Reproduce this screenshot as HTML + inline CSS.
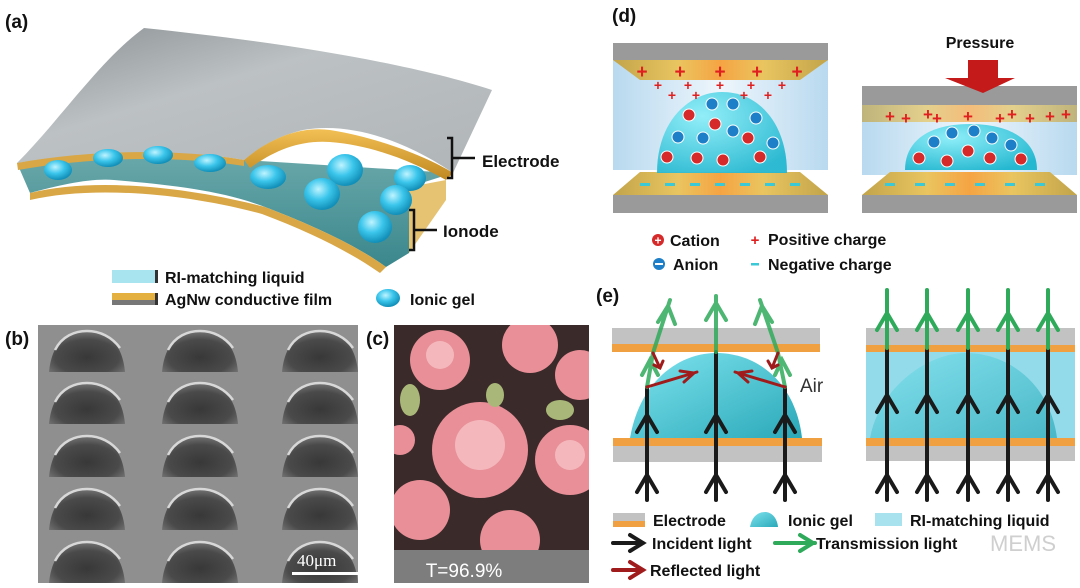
<!DOCTYPE html>
<html><head><meta charset="utf-8"><style>
html,body{margin:0;padding:0;background:#fff;}
svg{display:block;font-family:"Liberation Sans",Arial,sans-serif;}
.t{font-weight:bold;font-size:16px;fill:#111;}
.lab{font-weight:bold;font-size:19px;fill:#111;}
</style></head><body>
<svg width="1080" height="588" viewBox="0 0 1080 588" xmlns="http://www.w3.org/2000/svg">
<defs>
<linearGradient id="gray" x1="0" y1="0" x2="1" y2="1"><stop offset="0" stop-color="#8a9093"/><stop offset="0.4" stop-color="#bcc1c3"/><stop offset="1" stop-color="#b0b5b7"/></linearGradient>
<linearGradient id="gold" x1="0" y1="0" x2="0" y2="1"><stop offset="0" stop-color="#f2c055"/><stop offset="1" stop-color="#c08820"/></linearGradient>
<radialGradient id="ball" cx="0.4" cy="0.35" r="0.65"><stop offset="0" stop-color="#bff4ff"/><stop offset="0.5" stop-color="#3cc6ec"/><stop offset="1" stop-color="#118fb8"/></radialGradient>
<linearGradient id="cav" x1="0" y1="0" x2="0" y2="1"><stop offset="0" stop-color="#6aa8aa"/><stop offset="1" stop-color="#3a878c"/></linearGradient>
<radialGradient id="bump" cx="0.5" cy="0.65" r="0.6"><stop offset="0" stop-color="#383838"/><stop offset="0.7" stop-color="#4a4a4a"/><stop offset="1" stop-color="#707070"/></radialGradient>
<linearGradient id="ylw" x1="0" y1="0" x2="1" y2="0"><stop offset="0" stop-color="#c2a44a"/><stop offset="0.3" stop-color="#e9c560"/><stop offset="0.5" stop-color="#f6a443"/><stop offset="0.7" stop-color="#e9c560"/><stop offset="1" stop-color="#c2a44a"/></linearGradient>
<linearGradient id="mid" x1="0" y1="0" x2="1" y2="0"><stop offset="0" stop-color="#b8d9ef"/><stop offset="0.5" stop-color="#eef6fc"/><stop offset="1" stop-color="#b8d9ef"/></linearGradient>
<radialGradient id="dome" cx="0.35" cy="0.3" r="0.8"><stop offset="0" stop-color="#8eeef8"/><stop offset="1" stop-color="#24b7d0"/></radialGradient>
<linearGradient id="gdome" x1="0" y1="0" x2="1" y2="1"><stop offset="0" stop-color="#7fe4ef"/><stop offset="1" stop-color="#2aa8b8"/></linearGradient>
<clipPath id="cb"><rect x="38" y="325" width="320" height="258"/></clipPath>
<clipPath id="cc"><rect x="394" y="325" width="195" height="225"/></clipPath>
</defs>

<!-- (a) -->
<text x="5" y="28" class="lab">(a)</text>
<path d="M30,193 C60,185 90,178 114,180 C170,185 220,190 265,207 C320,228 360,248 386,267 L409,253 L409,187 L453,173 L244,160 C200,155 120,150 17,163 Z" fill="url(#cav)"/>
<path d="M17,163 C60,120 100,60 144,28 C260,40 400,60 492,90 L453,173 C420,150 360,120 303,130 C270,138 255,152 244,160 C200,152 120,148 17,163 Z" fill="url(#gray)"/>
<path d="M17,163 C100,148 190,150 244,160 L244,166 C190,157 100,155 18,170 Z" fill="#d9a745"/>
<path d="M244,160 C270,138 300,126 330,130 C380,138 430,158 453,173 L446,180 C410,160 370,145 330,142 C300,140 275,150 250,168 Z" fill="url(#gold)"/>
<path d="M30,193 C90,178 180,185 265,207 C320,228 360,248 386,267 L380,273 C350,252 310,232 262,214 C180,192 90,186 30,200 Z" fill="#d9a745"/>
<path d="M386,267 L409,253 L409,187 L446,180 L446,200 L409,253 Z" fill="#e0b450" opacity="0.8"/>
<g fill="url(#ball)">
<ellipse cx="58" cy="170" rx="14" ry="10"/><ellipse cx="108" cy="158" rx="15" ry="9"/><ellipse cx="158" cy="155" rx="15" ry="9"/><ellipse cx="210" cy="163" rx="16" ry="9"/>
<ellipse cx="268" cy="177" rx="18" ry="12"/><ellipse cx="345" cy="170" rx="18" ry="16"/><ellipse cx="322" cy="194" rx="18" ry="16"/><ellipse cx="410" cy="178" rx="16" ry="13"/><ellipse cx="396" cy="200" rx="16" ry="15"/><ellipse cx="375" cy="227" rx="17" ry="16"/>
</g>
<path d="M447,138 H452 V178 H447 M452,158 H475" stroke="#111" stroke-width="2.5" fill="none"/>
<path d="M409,210 H414 V250 H409 M414,230 H437" stroke="#111" stroke-width="2.5" fill="none"/>
<text x="482" y="167" class="t" style="font-size:17px">Electrode</text>
<text x="443" y="237" class="t" style="font-size:17px">Ionode</text>
<rect x="112" y="270" width="45" height="13" fill="#a8e4ef"/><rect x="155" y="270" width="3" height="13" fill="#333"/>
<text x="165" y="283" class="t">RI-matching liquid</text>
<rect x="112" y="293" width="45" height="7" fill="#e4b040"/><rect x="112" y="300" width="45" height="5" fill="#777"/><rect x="155" y="293" width="3" height="12" fill="#333"/>
<text x="165" y="305" class="t">AgNw conductive film</text>
<ellipse cx="388" cy="298" rx="12" ry="9" fill="url(#ball)"/>
<text x="410" y="305" class="t">Ionic gel</text>

<!-- (b) -->
<text x="5" y="345" class="lab">(b)</text>
<g clip-path="url(#cb)">
<rect x="38" y="325" width="320" height="258" fill="#8f8f8f"/>
<g id="row">
<path d="M49,372 C52,340 70,330 87,330 C104,330 122,340 125,372 Z" fill="url(#bump)"/>
<path d="M162,372 C165,340 183,330 200,330 C217,330 235,340 238,372 Z" fill="url(#bump)"/>
<path d="M282,372 C285,340 303,330 320,330 C337,330 355,340 358,372 Z" fill="url(#bump)"/>
<path d="M55,350 C62,336 75,331 87,331 C100,331 112,337 120,348 M168,350 C175,336 188,331 200,331 C213,331 225,337 233,348 M288,350 C295,336 308,331 320,331 C333,331 345,337 353,348" stroke="#d8d8d8" stroke-width="2.5" fill="none"/>
</g>
<use href="#row" y="52"/><use href="#row" y="105"/><use href="#row" y="158"/><use href="#row" y="211"/>
</g>
<rect x="292" y="572" width="66" height="3" fill="#fff"/>
<text x="297" y="566" fill="#fff" style="font-family:'Liberation Serif',serif;font-size:17px">40μm</text>

<!-- (c) -->
<text x="366" y="345" class="lab">(c)</text>
<g clip-path="url(#cc)">
<rect x="394" y="325" width="195" height="225" fill="#3a2a2a"/>
<g fill="#e88f98">
<circle cx="440" cy="360" r="30"/><circle cx="530" cy="345" r="28"/><circle cx="580" cy="375" r="25"/><circle cx="480" cy="450" r="48"/><circle cx="570" cy="460" r="35"/><circle cx="420" cy="510" r="30"/><circle cx="510" cy="540" r="30"/><circle cx="400" cy="440" r="15"/>
</g>
<g fill="#f4b8bc"><circle cx="480" cy="445" r="25"/><circle cx="440" cy="355" r="14"/><circle cx="570" cy="455" r="15"/></g>
<g fill="#a9b878"><ellipse cx="410" cy="400" rx="10" ry="16"/><ellipse cx="560" cy="410" rx="14" ry="10"/><ellipse cx="495" cy="395" rx="9" ry="12"/></g>
</g>
<rect x="394" y="550" width="195" height="33" fill="#7d7d7d"/>
<text x="464" y="577" fill="#fff" text-anchor="middle" style="font-size:19px">T=96.9%</text>

<!-- (d) -->
<text x="612" y="22" class="lab">(d)</text>
<rect x="613" y="60" width="215" height="110" fill="url(#mid)"/>
<rect x="613" y="43" width="215" height="17" fill="#9a9a9a"/>
<path d="M613,60 H828 L800,80 H640 Z" fill="url(#ylw)"/>
<path d="M613,195 H828 L800,172 H640 Z" fill="url(#ylw)"/>
<rect x="613" y="195" width="215" height="18" fill="#9a9a9a"/>
<path d="M657,173 C657,120 690,92 722,92 C760,92 787,125 787,173 Z" fill="url(#dome)" opacity="0.95"/>
<g fill="#e02020" font-weight="bold" font-size="19" text-anchor="middle">
<text x="642" y="78">+</text><text x="680" y="78">+</text><text x="720" y="78">+</text><text x="757" y="78">+</text><text x="797" y="78">+</text>
</g>
<g fill="#e02020" font-weight="bold" font-size="14" text-anchor="middle">
<text x="658" y="90">+</text><text x="688" y="90">+</text><text x="720" y="90">+</text><text x="751" y="90">+</text><text x="782" y="90">+</text><text x="672" y="100">+</text><text x="696" y="100">+</text><text x="744" y="100">+</text><text x="768" y="100">+</text>
</g>
<g fill="#3ac9d6"><rect x="640" y="183" width="10" height="3"/><rect x="665" y="183" width="10" height="3"/><rect x="690" y="183" width="10" height="3"/><rect x="715" y="183" width="10" height="3"/><rect x="740" y="183" width="10" height="3"/><rect x="765" y="183" width="10" height="3"/><rect x="790" y="183" width="10" height="3"/></g>
<g fill="#d62a2a" stroke="#fff" stroke-width="1">
<circle cx="689" cy="115" r="6"/><circle cx="715" cy="124" r="6"/><circle cx="748" cy="138" r="6"/><circle cx="667" cy="157" r="6"/><circle cx="697" cy="158" r="6"/><circle cx="723" cy="160" r="6"/><circle cx="760" cy="157" r="6"/>
</g>
<g fill="#1d7fc8" stroke="#fff" stroke-width="1">
<circle cx="712" cy="104" r="6"/><circle cx="733" cy="104" r="6"/><circle cx="756" cy="118" r="6"/><circle cx="678" cy="137" r="6"/><circle cx="703" cy="138" r="6"/><circle cx="733" cy="131" r="6"/><circle cx="773" cy="143" r="6"/>
</g>
<rect x="862" y="105" width="215" height="70" fill="url(#mid)"/>
<rect x="862" y="86" width="215" height="19" fill="#9a9a9a"/>
<rect x="862" y="105" width="215" height="17" fill="url(#ylw)" opacity="0.7"/>
<path d="M862,195 H1077 L1050,172 H890 Z" fill="url(#ylw)"/>
<rect x="862" y="195" width="215" height="18" fill="#9a9a9a"/>
<path d="M905,170 C905,140 930,124 970,124 C1010,124 1037,140 1037,170 Z" fill="url(#dome)"/>
<g fill="#e02020" font-weight="bold" font-size="17" text-anchor="middle">
<text x="890" y="122">+</text><text x="906" y="124">+</text><text x="928" y="120">+</text><text x="937" y="124">+</text><text x="968" y="122">+</text><text x="1000" y="124">+</text><text x="1012" y="120">+</text><text x="1030" y="124">+</text><text x="1050" y="122">+</text><text x="1066" y="120">+</text>
</g>
<g fill="#3ac9d6"><rect x="885" y="183" width="10" height="3"/><rect x="915" y="183" width="10" height="3"/><rect x="945" y="183" width="10" height="3"/><rect x="975" y="183" width="10" height="3"/><rect x="1005" y="183" width="10" height="3"/><rect x="1035" y="183" width="10" height="3"/></g>
<g fill="#d62a2a" stroke="#fff" stroke-width="1"><circle cx="919" cy="158" r="6"/><circle cx="947" cy="161" r="6"/><circle cx="968" cy="151" r="6"/><circle cx="990" cy="158" r="6"/><circle cx="1021" cy="159" r="6"/></g>
<g fill="#1d7fc8" stroke="#fff" stroke-width="1"><circle cx="934" cy="142" r="6"/><circle cx="952" cy="133" r="6"/><circle cx="974" cy="131" r="6"/><circle cx="992" cy="138" r="6"/><circle cx="1011" cy="145" r="6"/></g>
<path d="M968,60 H998 V78 H1015 L983,93 L945,78 H968 Z" fill="#c41a1a"/>
<text x="980" y="48" class="t" text-anchor="middle">Pressure</text>
<circle cx="658" cy="240" r="6" fill="#d62a2a"/><text x="658" y="244.5" fill="#fff" font-size="12" font-weight="bold" text-anchor="middle">+</text>
<text x="670" y="246" class="t">Cation</text>
<text x="755" y="245" fill="#e02020" font-weight="bold" font-size="15" text-anchor="middle">+</text>
<text x="768" y="245" class="t">Positive charge</text>
<circle cx="659" cy="264" r="6" fill="#1d7fc8"/><rect x="655" y="263" width="8" height="2" fill="#fff"/>
<text x="673" y="270" class="t">Anion</text>
<rect x="751" y="263" width="8" height="2.5" fill="#3ac9d6"/>
<text x="768" y="270" class="t">Negative charge</text>

<!-- (e) -->
<text x="596" y="302" class="lab">(e)</text>
<rect x="612" y="328" width="208" height="16" fill="#c2c2c2"/>
<rect x="612" y="344" width="208" height="8" fill="#f0a040"/>
<path d="M630,438 C640,380 680,353 716,353 C760,353 796,385 802,438 Z" fill="url(#gdome)"/>
<rect x="613" y="438" width="209" height="8" fill="#f0a040"/>
<rect x="613" y="446" width="209" height="16" fill="#c2c2c2"/>
<g stroke="#1a1a1a" stroke-width="4" fill="none" stroke-linecap="round">
<path d="M647,500 V387"/><path d="M716,500 V352"/><path d="M785,500 V387"/>
<path d="M637,492 L647,475 L657,492 M637,432 L647,415 L657,432 M706,492 L716,475 L726,492 M706,432 L716,415 L726,432 M775,492 L785,475 L795,492 M775,432 L785,415 L795,432"/>
</g>
<g stroke="#2eaa5a" stroke-width="4" fill="none" stroke-linecap="round" opacity="0.85">
<path d="M716,352 V296 M706,320 L716,303 L726,320"/>
<path d="M647,387 L653,353 L670,300 M642,375 L650,360 L658,375 M658,322 L668,306 L675,324"/>
<path d="M785,387 L778,353 L760,300 M775,375 L782,360 L790,375 M755,324 L762,306 L772,322"/>
</g>
<g stroke="#a01c1c" stroke-width="3" fill="none" stroke-linecap="round">
<path d="M647,387 L697,372 M680,371 L694,373 L684,382"/>
<path d="M785,387 L735,372 M752,371 L738,373 L748,382"/>
<path d="M653,353 L660,368 M654,365 L660,368 L663,361"/>
<path d="M778,353 L772,368 M768,361 L772,368 L778,365"/>
</g>
<text x="800" y="392" class="t" style="font-size:19px;font-weight:normal;fill:#333">Air</text>
<rect x="866" y="352" width="209" height="86" fill="#93dbea"/>
<path d="M870,438 C880,385 930,353 965,353 C1010,353 1050,385 1057,438 Z" fill="url(#gdome)" opacity="0.7"/>
<rect x="866" y="328" width="209" height="17" fill="#c2c2c2"/>
<rect x="866" y="345" width="209" height="7" fill="#f0a040"/>
<rect x="866" y="438" width="209" height="8" fill="#f0a040"/>
<rect x="866" y="446" width="209" height="15" fill="#c2c2c2"/>
<g stroke="#1a1a1a" stroke-width="4" fill="none" stroke-linecap="round">
<path d="M887,500 V348 M877,492 L887,475 L897,492 M877,412 L887,395 L897,412"/>
<path d="M927,500 V348 M917,492 L927,475 L937,492 M917,412 L927,395 L937,412"/>
<path d="M968,500 V348 M958,492 L968,475 L978,492 M958,412 L968,395 L978,412"/>
<path d="M1008,500 V348 M998,492 L1008,475 L1018,492 M998,412 L1008,395 L1018,412"/>
<path d="M1048,500 V348 M1038,492 L1048,475 L1058,492 M1038,412 L1048,395 L1058,412"/>
</g>
<g stroke="#2eaa5a" stroke-width="4" fill="none" stroke-linecap="round">
<path d="M887,348 V290 M877,330 L887,313 L897,330"/>
<path d="M927,348 V290 M917,330 L927,313 L937,330"/>
<path d="M968,348 V290 M958,330 L968,313 L978,330"/>
<path d="M1008,348 V290 M998,330 L1008,313 L1018,330"/>
<path d="M1048,348 V290 M1038,330 L1048,313 L1058,330"/>
</g>
<rect x="613" y="513" width="32" height="8" fill="#c2c2c2"/><rect x="613" y="521" width="32" height="6" fill="#f0a040"/>
<text x="653" y="526" class="t">Electrode</text>
<path d="M750,527 C752,515 760,512 765,512 C771,512 777,517 778,527 Z" fill="url(#gdome)"/>
<text x="788" y="526" class="t">Ionic gel</text>
<rect x="875" y="513" width="27" height="13" fill="#a8e2ee"/>
<text x="910" y="526" class="t">RI-matching liquid</text>
<g stroke-width="4" fill="none" stroke-linecap="round">
<path d="M613,543 H643 M630,535 L643,543 L630,551" stroke="#1a1a1a"/>
<path d="M775,543 H815 M800,535 L813,543 L800,551" stroke="#2eaa5a"/>
<path d="M613,570 H643 M630,562 L643,570 L630,578" stroke="#a01c1c"/>
</g>
<text x="652" y="549" class="t">Incident light</text>
<text x="816" y="549" class="t">Transmission light</text>
<text x="650" y="576" class="t">Reflected light</text>
<text x="990" y="551" fill="#cfcfcf" font-size="22" style="font-weight:normal">MEMS</text>
</svg>
</body></html>
